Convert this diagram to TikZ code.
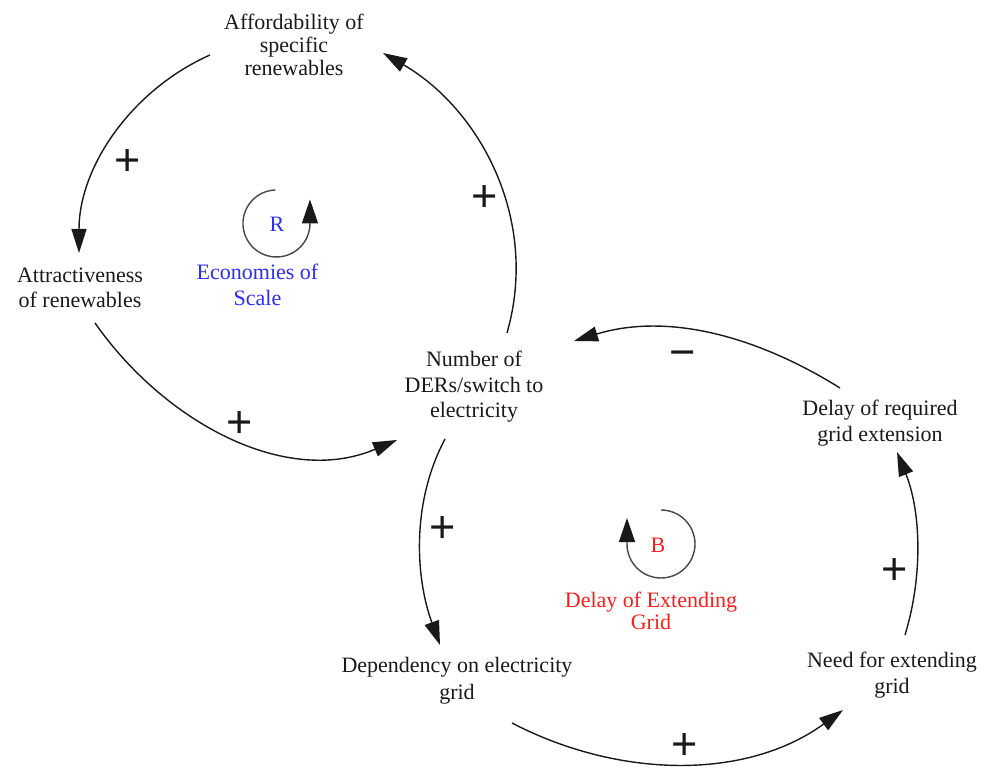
\documentclass[tikz,border=0pt]{standalone}
\usepackage{fontspec}
\setmainfont{Liberation Serif}
\newfontfamily\signfont{Liberation Sans}
\usetikzlibrary{arrows.meta}
\definecolor{loopblue}{RGB}{45,45,250}
\definecolor{loopred}{RGB}{250,30,30}
\definecolor{ink}{RGB}{25,25,25}
\begin{document}
\begin{tikzpicture}[x=1pt,y=1pt,
  var/.style={align=center, text=ink, font=\fontsize{22}{25.5}\selectfont, inner sep=0pt},
  sign/.style={text=ink, font=\signfont\fontsize{45}{45}\selectfont, inner sep=0pt},
  link/.style={draw=ink, line width=1.4pt, -{Triangle[length=24pt,width=15pt]}},
  loopmark/.style={draw=ink!80, line width=1.4pt, -{Triangle[length=24pt,width=16pt,color=ink]}},
]
\useasboundingbox (0,0) rectangle (987,769);

% variables
\node[var, font=\fontsize{22}{23}\selectfont] (aff) at (294,724) {Affordability of\\specific\\renewables};
\node[var, font=\fontsize{22}{24.5}\selectfont] (att) at (80,481) {Attractiveness\\of renewables};
\node[var] (num) at (474,382) {Number of\\DERs/switch to\\electricity};
\node[var] (dly) at (880,346) {Delay of required\\grid extension};
\node[var] (need) at (892,94) {Need for extending\\grid};
\node[var, font=\fontsize{22}{27}\selectfont] (dep) at (457,88) {Dependency on electricity\\grid};

% loop labels
\node[var, text=loopblue] (eco) at (257.5,484) {Economies of\\Scale};
\node[var, text=loopred, font=\fontsize{22}{22.5}\selectfont] (ext) at (651,158) {Delay of Extending\\Grid};
\node[var, text=loopblue] (rmark) at (277,545) {R};
\node[var, text=loopred] (bmark) at (658,224) {B};

% causal links
\draw[link] ([shift={(-84,-10)}]aff.center) .. controls +(204:86) and +(90:86) .. ([shift={(-1,35)}]att.center);
\draw[link] ([shift={(15,-35)}]att.center) .. controls +(305:121) and +(203:121) .. ([shift={(-77,-53)}]num.center);
\draw[link] ([shift={(33,54)}]num.center) .. controls +(74:120) and +(330:110) .. ([shift={(89,-8)}]aff.center);
\draw[link] ([shift={(-29,-52)}]num.center) .. controls +(242:72) and +(110:72) .. ([shift={(-17,36)}]dep.center);
\draw[link] ([shift={(55,-42)}]dep.center) .. controls +(332.5:120) and +(216:120) .. ([shift={(-49,-35)}]need.center);
\draw[link] ([shift={(13,40)}]need.center) .. controls +(73:63) and +(292:63) .. ([shift={(17,-29)}]dly.center);
\draw[link] ([shift={(-40,35)}]dly.center) .. controls +(148:98) and +(17:98) .. ([shift={(100,46)}]num.center);

% polarities
\node[sign] (p1) at (128,606) {+};
\node[sign] (p2) at (240,344) {+};
\node[sign] (p3) at (485,570) {+};
\node[sign] (p4) at (443,239) {+};
\node[sign] (p5) at (685,22) {+};
\node[sign] (p6) at (895,197) {+};
\node[sign] (m7) at (683,410) {−};

% loop direction marks
\draw[loopmark] ([shift={(-1.7,34)}]rmark.center) arc[start angle=92, end angle=360, radius=33.5pt] -- ++(0,24);
\draw[loopmark] ([shift={(3,35)}]bmark.center) arc[start angle=90, end angle=-180, radius=34pt] -- ++(0,26);
\end{tikzpicture}
\end{document}
